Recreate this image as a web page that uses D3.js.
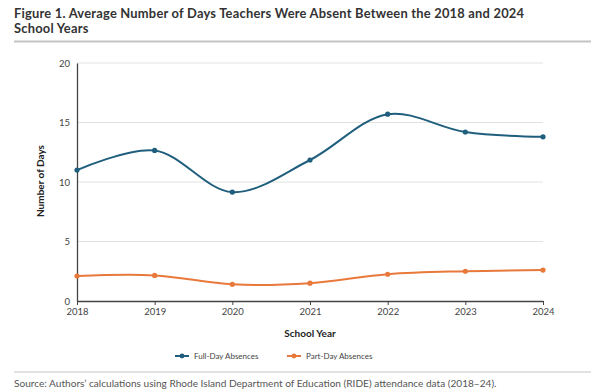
<!DOCTYPE html>
<html>
<head>
<meta charset="utf-8">
<script src="https://cdn.jsdelivr.net/npm/d3@7.9.0/dist/d3.min.js"></script>
<style>
  body { margin: 0; background: #fff; }
  svg { font-family: Lato, "Open Sans", sans-serif; }
</style>
</head>
<body>
<svg id="chart" width="605" height="392"></svg>
<script>
// chart data
const years = [2018, 2019, 2020, 2021, 2022, 2023, 2024];
const fullDay = [11.0, 12.65, 9.15, 11.85, 15.7, 14.2, 13.8];
const partDay = [2.1, 2.15, 1.4, 1.5, 2.25, 2.5, 2.6];
const yTicks = [0, 5, 10, 15, 20];
const seriesNames = ['Full-Day Absences', 'Part-Day Absences'];
const colors = ['#1f5f7d', '#e8793b'];

const svg = d3.select('#chart');

// title (two lines)
const titleLines = ['Figure 1. Average Number of Days Teachers Were Absent Between the 2018 and 2024', 'School Years'];
titleLines.forEach((t, i) => {
  svg.append('text')
    .attr('x', 14).attr('y', 17.5 + i * 15.6)
    .attr('font-size', 12.9).attr('font-weight', 700).attr('fill', '#333')
    .attr('letter-spacing', 0.22)
    .text(t);
});
svg.append('line')
  .attr('x1', 14).attr('x2', 591).attr('y1', 41.5).attr('y2', 41.5)
  .attr('stroke', '#c4c4c4').attr('stroke-width', 2);

const x = d3.scaleLinear().domain([2018, 2024]).range([77, 543]);
const y = d3.scaleLinear().domain([0, 20]).range([301, 63]);

// gridlines
svg.append('g')
  .selectAll('line')
  .data(yTicks.filter(d => d > 0))
  .join('line')
  .attr('x1', x(2018)).attr('x2', x(2024))
  .attr('y1', d => y(d)).attr('y2', d => y(d))
  .attr('stroke', '#e2e2e2').attr('stroke-width', 1);

// y axis
const yAxis = svg.append('g')
  .attr('transform', `translate(${x(2018)},0)`)
  .call(d3.axisLeft(y).tickValues(yTicks).tickSize(0).tickPadding(7));
yAxis.select('.domain').attr('stroke', '#444').attr('stroke-width', 1.3);
yAxis.selectAll('text').attr('font-size', 9.5).attr('fill', '#444').attr('font-family', 'Lato, sans-serif');

// x axis
const xAxis = svg.append('g')
  .attr('transform', `translate(0,${y(0)})`)
  .call(d3.axisBottom(x).tickValues(years).tickFormat(d3.format('d')).tickSize(4).tickSizeOuter(0).tickPadding(3));
xAxis.select('.domain').attr('stroke', '#444').attr('stroke-width', 1.3);
xAxis.selectAll('.tick line').attr('stroke', '#444');
xAxis.selectAll('text').attr('font-size', 9.5).attr('fill', '#444').attr('font-family', 'Lato, sans-serif');

// axis titles
svg.append('text')
  .attr('x', 310).attr('y', 337)
  .attr('text-anchor', 'middle')
  .attr('font-size', 10).attr('font-weight', 700).attr('fill', '#222')
  .text('School Year');
svg.append('text')
  .attr('transform', 'translate(44,181) rotate(-90)')
  .attr('text-anchor', 'middle')
  .attr('font-size', 10).attr('font-weight', 700).attr('fill', '#222')
  .text('Number of Days');

// lines + points
const line = d3.line()
  .x((d, i) => x(years[i]))
  .y(d => y(d))
  .curve(d3.curveCatmullRom.alpha(0.5));

[fullDay, partDay].forEach((vals, k) => {
  svg.append('path')
    .datum(vals)
    .attr('d', line)
    .attr('fill', 'none')
    .attr('stroke', colors[k])
    .attr('stroke-width', 2);
  svg.append('g')
    .selectAll('circle')
    .data(vals)
    .join('circle')
    .attr('cx', (d, i) => x(years[i]))
    .attr('cy', d => y(d))
    .attr('r', 2.6)
    .attr('fill', colors[k]);
});

// legend
const legendX = [175, 287];
seriesNames.forEach((name, k) => {
  const g = svg.append('g').attr('transform', `translate(${legendX[k]},356)`);
  g.append('line').attr('x1', 0).attr('x2', 14).attr('stroke', colors[k]).attr('stroke-width', 2);
  g.append('circle').attr('cx', 7).attr('r', 2.4).attr('fill', colors[k]);
  g.append('text')
    .attr('x', 19).attr('y', 3)
    .attr('font-size', 8).attr('fill', '#444')
    .text(name);
});

// source
svg.append('line')
  .attr('x1', 14).attr('x2', 591).attr('y1', 372).attr('y2', 372)
  .attr('stroke', '#c4c4c4').attr('stroke-width', 1.2);
svg.append('text')
  .attr('x', 14).attr('y', 387)
  .attr('font-size', 10.1).attr('fill', '#555')
  .text('Source: Authors\u2019 calculations using Rhode Island Department of Education (RIDE) attendance data (2018\u201324).');
</script>
</body>
</html>
